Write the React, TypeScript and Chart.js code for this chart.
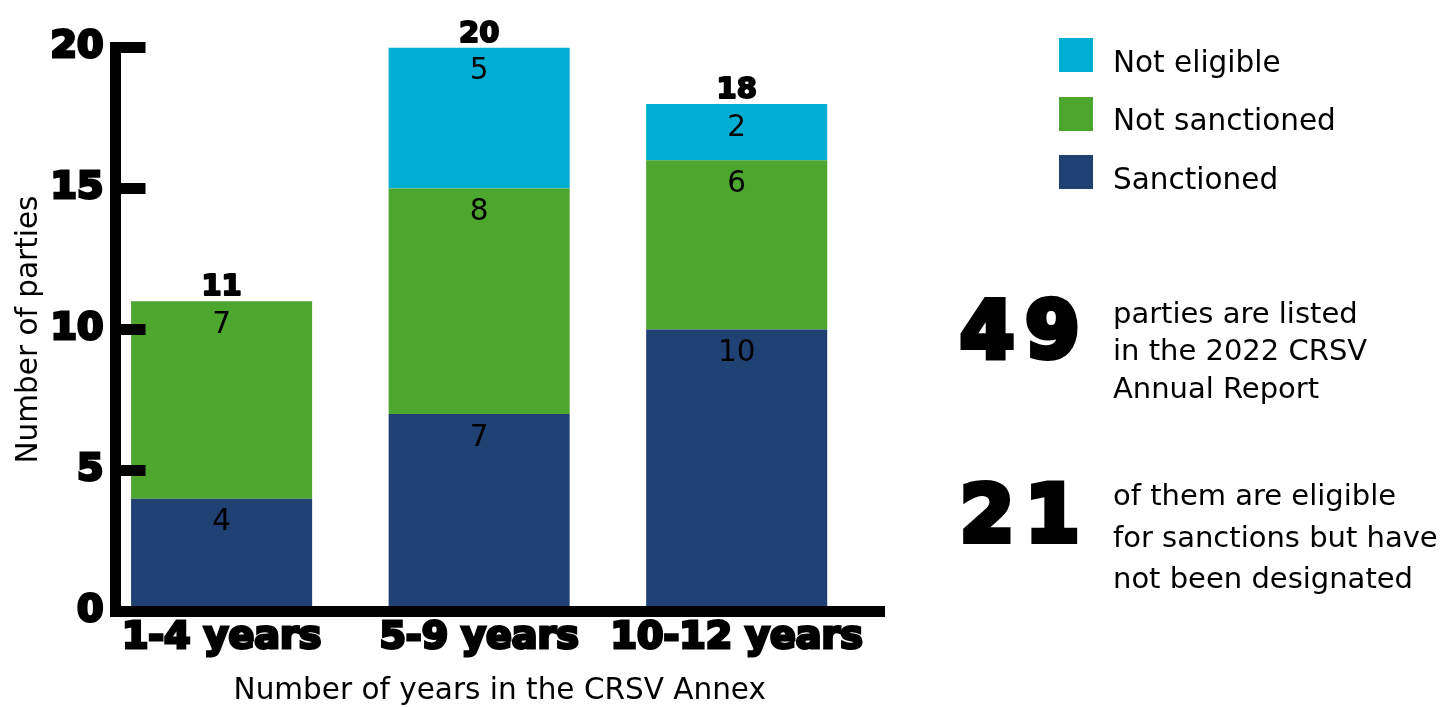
import React, { useEffect, useRef } from 'react';
import { Chart, registerables } from 'chart.js';

Chart.register(...registerables);

const categories = ['1-4 years', '5-9 years', '10-12 years'];
const seriesNames = ['Sanctioned', 'Not sanctioned', 'Not eligible'];
const sanctionedValues = [4, 7, 10];
const notSanctionedValues = [7, 8, 6];
const notEligibleValues = [0, 5, 2];
const seriesColors = ['#204173', '#4DA62E', '#00AED3'];
const yTickValues = [0, 5, 10, 15, 20];
const xAxisTitle = 'Number of years in the CRSV Annex';
const yAxisTitle = 'Number of parties';
const statNumbers = ['49', '21'];
const statTexts = [
  ['parties are listed', 'in the 2022 CRSV', 'Annual Report'],
  ['of them are eligible', 'for sanctions but have', 'not been designated'],
];

const seriesValues = [sanctionedValues, notSanctionedValues, notEligibleValues];
const FONT = '"DejaVu Sans", sans-serif';

const barLabelPlugin = {
  id: 'barLabels',
  afterDatasetsDraw(chart: any) {
    const { ctx } = chart;
    ctx.save();
    ctx.fillStyle = '#000';
    ctx.textAlign = 'center';
    ctx.textBaseline = 'middle';
    ctx.font = `29.5px ${FONT}`;
    seriesValues.forEach((vals, di) => {
      const meta = chart.getDatasetMeta(di);
      meta.data.forEach((bar: any, i: number) => {
        if (!vals[i]) return;
        ctx.fillText(String(vals[i]), bar.x, bar.y + 24);
      });
    });
    ctx.font = `bold 29px ${FONT}`;
    ctx.textBaseline = 'alphabetic';
    ctx.lineWidth = 2;
    ctx.strokeStyle = '#000';
    ctx.lineJoin = 'round';
    categories.forEach((_, i) => {
      const total = seriesValues.reduce((s, vals) => s + vals[i], 0);
      const top = Math.min(...seriesValues.map((_, di) => chart.getDatasetMeta(di).data[i].y));
      const x = chart.getDatasetMeta(0).data[i].x;
      ctx.strokeText(String(total), x, top - 6);
      ctx.fillText(String(total), x, top - 6);
    });
    ctx.restore();
  },
};

export default function App() {
  const canvasRef = useRef<HTMLCanvasElement | null>(null);

  useEffect(() => {
    if (!canvasRef.current) return;
    Chart.defaults.color = '#000';
    Chart.defaults.font.family = FONT;
    const chart = new Chart(canvasRef.current, {
      type: 'bar',
      data: {
        datasets: seriesNames.map((name, di) => ({
          label: name,
          data: seriesValues[di].map((v, i) => ({ x: i, y: v })),
          backgroundColor: seriesColors[di],
          borderWidth: 0,
          stack: 'all',
          categoryPercentage: 1,
          barPercentage: 0.703,
        })),
      },
      options: {
        animation: false,
        responsive: false,
        layout: { padding: { top: 47.5, right: 556, left: 0, bottom: 0 } },
        plugins: { legend: { display: false }, tooltip: { enabled: false } },
        scales: {
          x: {
            type: 'linear',
            offset: false,
            min: -0.412,
            max: 2.572,
            afterBuildTicks: (scale: any) => {
              scale.ticks = categories.map((_, i) => ({ value: i }));
            },
            afterFit: (scale: any) => {
              scale.height = 95.5;
              scale.paddingLeft = 0;
              scale.paddingRight = 0;
            },
            grid: { display: true, drawOnChartArea: false, drawTicks: false, z: 1 },
            border: { display: true, width: 11, color: '#000', z: 1 },
            ticks: {
              autoSkip: false,
              maxRotation: 0,
              minRotation: 0,
              padding: 4,
              color: '#000',
              font: { family: FONT, size: 38, weight: 'bold' },
              textStrokeColor: '#000',
              textStrokeWidth: 3,
              callback: (v: any) => categories[v] ?? '',
            },
            title: {
              display: true,
              text: xAxisTitle,
              color: '#000',
              font: { family: FONT, size: 29.5, lineHeight: 1 },
              padding: { top: 0, bottom: 1.25 },
            },
          },
          y: {
            stacked: true,
            min: yTickValues[0],
            max: yTickValues[yTickValues.length - 1],
            afterBuildTicks: (scale: any) => {
              scale.ticks = yTickValues.map((v) => ({ value: v }));
            },
            afterFit: (scale: any) => {
              scale.width = 115.5;
              scale.paddingTop = 0;
              scale.paddingBottom = 0;
            },
            grid: {
              display: true,
              drawOnChartArea: false,
              drawTicks: true,
              tickLength: -30,
              tickWidth: 11,
              tickColor: '#000',
              z: 1,
            },
            border: { display: true, width: 11, color: '#000', z: 1 },
            ticks: {
              padding: 42,
              color: '#000',
              font: { family: FONT, size: 38, weight: 'bold' },
              textStrokeColor: '#000',
              textStrokeWidth: 3,
            },
            title: {
              display: true,
              text: yAxisTitle,
              color: '#000',
              font: { family: FONT, size: 29.5, lineHeight: 1 },
              padding: { top: 15, bottom: 0 },
            },
          },
        },
      },
      plugins: [barLabelPlugin],
    } as any);
    return () => chart.destroy();
  }, []);

  const legendOrder = [2, 1, 0];

  return (
    <div style={{ position: 'fixed', left: 0, top: 0, width: 1440, height: 707, background: '#fff', overflow: 'hidden' }}>
      <canvas ref={canvasRef} width={1440} height={707} style={{ display: 'block', position: 'absolute', left: 0, top: 0 }} />
      <div style={{ position: 'absolute', left: 1059, top: 38 }}>
        {legendOrder.map((di, k) => (
          <div key={di} style={{ position: 'absolute', left: 0, top: k * 58.5, width: 400, height: 34 }}>
            <div style={{ position: 'absolute', left: 0, top: 0, width: 34, height: 34, background: seriesColors[di] }} />
            <div style={{ position: 'absolute', left: 54, top: 6.8, fontFamily: FONT, fontSize: 29.5, lineHeight: '34px', whiteSpace: 'nowrap', color: '#000' }}>
              {seriesNames[di]}
            </div>
          </div>
        ))}
      </div>
      {statNumbers.map((num, k) => (
        <React.Fragment key={num}>
          <div
            style={{
              position: 'absolute',
              left: 960,
              top: k === 0 ? 291 : 475,
              fontFamily: FONT,
              fontWeight: 700,
              fontSize: 78,
              lineHeight: '78px',
              letterSpacing: '11px',
              WebkitTextStroke: '6px #000',
              color: '#000',
              whiteSpace: 'nowrap',
            }}
          >
            {num}
          </div>
          <div
            style={{
              position: 'absolute',
              left: 1113,
              top: k === 0 ? 294.5 : 475,
              fontFamily: FONT,
              fontSize: 29,
              lineHeight: k === 0 ? '37.5px' : '41.5px',
              color: '#000',
              whiteSpace: 'nowrap',
            }}
          >
            {statTexts[k].map((line) => (
              <div key={line}>{line}</div>
            ))}
          </div>
        </React.Fragment>
      ))}
    </div>
  );
}
